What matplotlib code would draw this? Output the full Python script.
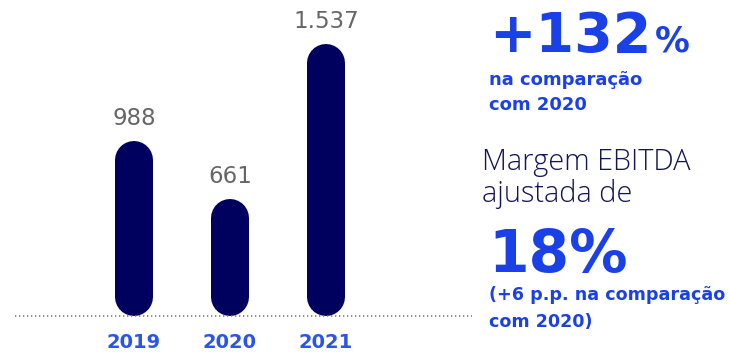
import matplotlib

matplotlib.use("Agg")
import matplotlib.pyplot as plt

# EBITDA ajustado (R$ milhões)
years = ["2019", "2020", "2021"]
ebitda = [988, 661, 1537]
value_labels = ["988", "661", "1.537"]

growth_text = "+132"
growth_sub = ["na comparação", "com 2020"]
margin_title = ["Margem EBITDA", "ajustada de"]
margin_text = "18%"
margin_sub = ["(+6 p.p. na comparação", "com 2020)"]

NAVY = "#00005f"
BLUE = "#1a40e8"
YEAR_BLUE = "#2b55e8"
GREY = "#666666"

W, H, DPI = 729, 353, 100
BASE_PX = 316          # baseline, px from top
BAR_W_PX = 38
PX_PER_X = 96          # distance between bar centres
X0_PX = 134            # centre of first bar


def fx(px):
    return px / W


def fy(py):
    return 1 - py / H


fig = plt.figure(figsize=(W / DPI, H / DPI), dpi=DPI)

left_px, right_px = 15, 472
ax = fig.add_axes([fx(left_px), fy(BASE_PX), (right_px - left_px) / W, BASE_PX / H])
ax.set_xlim((left_px - X0_PX) / PX_PER_X, (right_px - X0_PX) / PX_PER_X)
ymax = max(ebitda) * BASE_PX / 272
ax.set_ylim(0, ymax)
ax.axis("off")

# capsule bars: thick line with round caps, trimmed by the cap radius
r = (BAR_W_PX / 2) * ymax / BASE_PX
lw = BAR_W_PX * 72 / DPI
for i, v in enumerate(ebitda):
    ax.plot([i, i], [r, v - r], color=NAVY, lw=lw, solid_capstyle="round")
    ax.annotate(value_labels[i], (i, v), xytext=(0, 16), textcoords="offset points",
                ha="center", va="center", fontsize=16.5, color=GREY,
                family="DejaVu Sans")
    ax.annotate(years[i], (i, 0), xytext=(0, -19), textcoords="offset points",
                ha="center", va="center", fontsize=14, color=YEAR_BLUE,
                family="DejaVu Sans", fontweight="bold")

# dotted baseline
ax.axhline(0, color="#7a7a7a", lw=1.2, ls=(0, (0.8, 1.6)), clip_on=False)

# right-hand call-outs
heavy = dict(family="DejaVu Sans", fontweight="bold", color=BLUE)
t = fig.text(fx(489), fy(52), growth_text, fontsize=40, va="baseline", **heavy)
fig.canvas.draw()
bb = t.get_window_extent()
fig.text((bb.x1 + 3) / W, fy(52), "%", fontsize=25, va="baseline", **heavy)
for k, line in enumerate(growth_sub):
    fig.text(fx(489), fy(85 + 25 * k), line, fontsize=13, va="baseline",
             family="DejaVu Sans", fontweight="bold", color=BLUE)
for k, line in enumerate(margin_title):
    fig.text(fx(482), fy(170 + 32 * k), line, fontsize=20.8, va="baseline",
             family="Open Sans", fontweight="light", color="#14145a")
fig.text(fx(488), fy(272), margin_text, fontsize=42, va="baseline", **heavy)
for k, line in enumerate(margin_sub):
    fig.text(fx(489), fy(300 + 27 * k), line, fontsize=12.6, va="baseline",
             family="DejaVu Sans", fontweight="bold", color=BLUE)

fig.savefig("out.png", dpi=DPI)
